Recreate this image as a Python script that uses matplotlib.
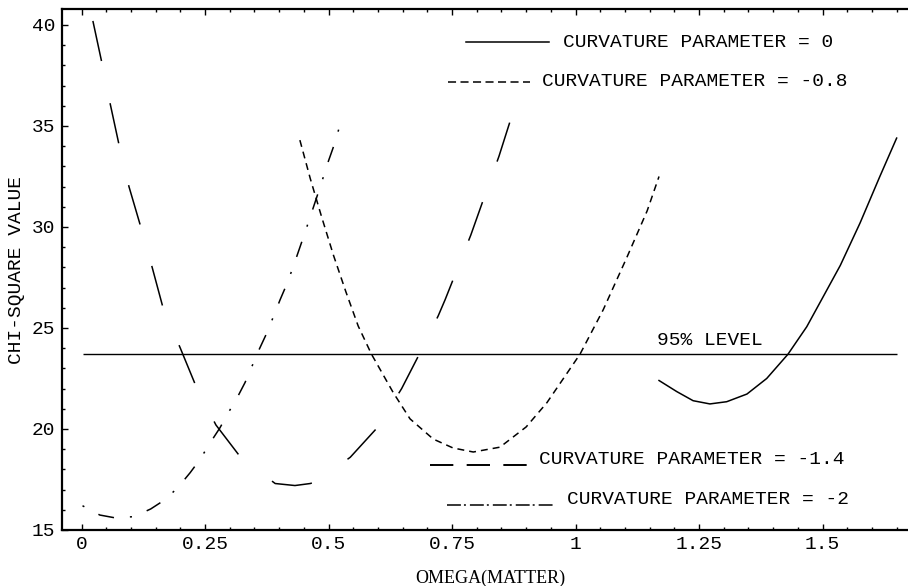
import matplotlib
matplotlib.use("Agg")
import matplotlib.pyplot as plt
from matplotlib.ticker import FixedLocator, MultipleLocator

plt.rcParams["font.family"] = ["Liberation Mono", "DejaVu Sans"]
plt.rcParams["lines.scale_dashes"] = False

# values
x_ticks = [0, 0.25, 0.5, 0.75, 1, 1.25, 1.5]
x_tick_labels = ["0", "0.25", "0.5", "0.75", "1", "1.25", "1.5"]
y_ticks = [15, 20, 25, 30, 35, 40]
y_tick_labels = ["15", "20", "25", "30", "35", "40"]

level_95 = 23.7
level_x = [0.003, 1.651]

k0_x = [1.169, 1.205, 1.238, 1.272, 1.306, 1.347, 1.387, 1.43, 1.468, 1.498, 1.536,
        1.576, 1.616, 1.65]
k0_y = [22.4, 21.85, 21.4, 21.24, 21.35, 21.73, 22.5, 23.7, 25.06, 26.4, 28.1,
        30.2, 32.5, 34.4]

k08_x = [0.442, 0.463, 0.486, 0.51, 0.535, 0.56, 0.587, 0.631, 0.665, 0.712, 0.752,
         0.793, 0.847, 0.90, 0.942, 1.009, 1.056, 1.104, 1.145, 1.169]
k08_y = [34.3, 32.4, 30.5, 28.6, 26.8, 25.1, 23.7, 21.8, 20.5, 19.5, 19.06,
         18.86, 19.1, 20.1, 21.3, 23.7, 25.9, 28.5, 30.8, 32.5]

k14_x = [0.023, 0.041, 0.058, 0.076, 0.096, 0.12, 0.143, 0.165, 0.2, 0.232, 0.272,
         0.322, 0.392, 0.432, 0.463, 0.476, 0.544, 0.60, 0.648, 0.685, 0.722, 0.736,
         0.788, 0.817, 0.845, 0.871]
k14_y = [40.2, 38.15, 36.1, 34.06, 32.0, 30.0, 28.0, 26.0, 24.0, 22.1, 20.2,
         18.6, 17.3, 17.2, 17.3, 17.4, 18.6, 20.1, 22.0, 23.76, 25.6, 26.4,
         29.6, 31.6, 33.5, 35.5]

k2_x = [0.002, 0.037, 0.068, 0.106, 0.14, 0.169, 0.195, 0.22, 0.24, 0.26, 0.28,
        0.297, 0.314, 0.331, 0.36, 0.376, 0.402, 0.416, 0.428, 0.452, 0.486,
        0.496, 0.509, 0.529]
k2_y = [16.2, 15.74, 15.6, 15.66, 16.04, 16.5, 17.1, 17.84, 18.5, 19.3, 20.05,
        20.8, 21.5, 22.3, 23.96, 24.8, 26.4, 27.2, 28.0, 29.7, 32.2,
        33.0, 33.9, 35.5]

legend_labels = [
    "CURVATURE PARAMETER = 0",
    "CURVATURE PARAMETER = -0.8",
    "CURVATURE PARAMETER = -1.4",
    "CURVATURE PARAMETER = -2",
]

short_dash = (0, (5.0, 3.6))
long_dash = (0, (29.5, 31.0))
dash_dot = (23.0, (11.5, 11.5, 1.5, 11.5))

fig = plt.figure(figsize=(9.08, 5.86), dpi=100)
ax = fig.add_axes([0.0683, 0.0956, 0.9317, 0.889])

lw = 1.1
ax.plot(k0_x, k0_y, color="black", lw=lw, linestyle="-")
ax.plot(k08_x, k08_y, color="black", lw=lw, linestyle=short_dash)
ax.plot(k14_x, k14_y, color="black", lw=lw, linestyle=long_dash)
ax.plot(k2_x, k2_y, color="black", lw=lw, linestyle=dash_dot)
ax.hlines(level_95, level_x[0], level_x[1], color="black", lw=1.0)
ax.text(1.164, level_95 + 0.7, "95% LEVEL", fontsize=14, va="center", ha="left")

# hand-made legend entries, as in the original
tr = ax.transAxes
ax.plot([0.4775, 0.5757], [0.9367, 0.9367], transform=tr, color="black", lw=lw)
ax.text(0.5918, 0.9367, legend_labels[0], transform=tr, fontsize=14, va="center")
ax.plot([0.456, 0.553], [0.860, 0.860], transform=tr, color="black", lw=lw,
        linestyle=(0, (5.8, 3.2)))
ax.text(0.567, 0.860, legend_labels[1], transform=tr, fontsize=14, va="center")
ax.plot([0.435, 0.550], [0.1248, 0.1248], transform=tr, color="black", lw=1.4,
        linestyle=(0, (16.8, 9.6)))
ax.text(0.5638, 0.1344, legend_labels[2], transform=tr, fontsize=14, va="center")
ax.plot([0.4547, 0.5827], [0.048, 0.048], transform=tr, color="black", lw=lw,
        linestyle=(0, (10.0, 2.2, 1.4, 2.9)))
ax.text(0.5966, 0.0576, legend_labels[3], transform=tr, fontsize=14, va="center")

ax.set_xlim(-0.0395, 1.673)
ax.set_ylim(15, 40.79)
ax.xaxis.set_major_locator(FixedLocator(x_ticks))
ax.set_xticklabels(x_tick_labels)
ax.xaxis.set_minor_locator(MultipleLocator(0.05))
ax.yaxis.set_major_locator(FixedLocator(y_ticks))
ax.set_yticklabels(y_tick_labels)
ax.yaxis.set_minor_locator(MultipleLocator(1))

ax.tick_params(which="both", direction="in", top=True, right=False,
               labelsize=14, width=1.0)
ax.tick_params(which="major", length=4.3)
ax.tick_params(which="minor", length=2.2)
ax.tick_params(axis="x", pad=4)
ax.tick_params(axis="y", pad=5)

for side in ("left", "bottom", "top"):
    ax.spines[side].set_linewidth(1.6)
ax.spines["right"].set_visible(False)

ax.set_xlabel("OMEGA(MATTER)", family="Liberation Serif", fontsize=13)
ax.set_ylabel("CHI-SQUARE VALUE", fontsize=14)
ax.xaxis.set_label_coords(0.506, -0.077)
ax.yaxis.set_label_coords(-0.044, 0.5)

fig.savefig("out.png", dpi=100)
